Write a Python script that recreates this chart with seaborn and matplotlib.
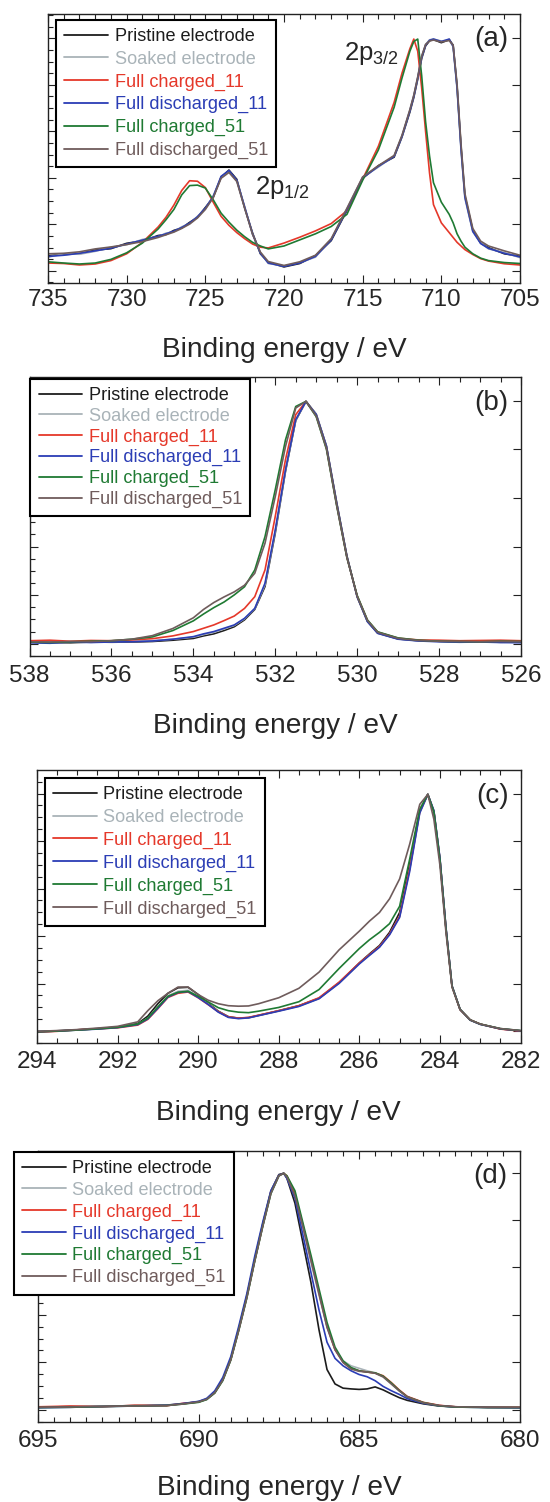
import matplotlib
matplotlib.use("Agg")
import matplotlib.pyplot as plt
from matplotlib.lines import Line2D
from matplotlib.ticker import MultipleLocator
import pandas as pd
import seaborn as sns

# ---------------------------------------------------------------- data
SAMPLES = ["Pristine electrode", "Soaked electrode", "Full charged_11",
           "Full discharged_11", "Full charged_51", "Full discharged_51"]
COLORS = ["#1c1c1c", "#a9b3b8", "#e5382a", "#2b3db5", "#1f7a33", "#6f5c5c"]

# (a) Fe 2p, normalised intensity
FE_ENERGY = [735, 734, 733, 732, 731, 730, 729, 728, 727.5, 727,
             726.5, 726, 725.5, 725, 724.5, 724, 723.5, 723, 722.5, 722,
             721.5, 721, 720, 719, 718, 717, 716, 715, 714, 713,
             712.5, 712, 711.75, 711.5, 711.25, 711, 710.75, 710.5, 710, 709.5,
             709.25, 709, 708.75, 708.5, 708, 707.5, 707, 706, 705]
FE_PRISTINE = [0.110, 0.115, 0.118, 0.133, 0.139, 0.161, 0.171, 0.193, 0.197, 0.214,
               0.224, 0.247, 0.268, 0.308, 0.350, 0.432, 0.462, 0.424, 0.306, 0.204,
               0.118, 0.083, 0.064, 0.078, 0.110, 0.172, 0.296, 0.428, 0.480, 0.515,
               0.598, 0.700, 0.760, 0.835, 0.920, 0.972, 0.993, 0.998, 0.985, 0.998,
               0.975, 0.805, 0.560, 0.355, 0.215, 0.162, 0.143, 0.118, 0.108]
FE_SOAKED = [0.104, 0.118, 0.116, 0.128, 0.145, 0.155, 0.177, 0.188, 0.203, 0.208,
             0.229, 0.241, 0.272, 0.302, 0.356, 0.430, 0.458, 0.418, 0.312, 0.198,
             0.123, 0.078, 0.068, 0.082, 0.104, 0.178, 0.302, 0.432, 0.474, 0.520,
             0.602, 0.708, 0.768, 0.842, 0.928, 0.978, 0.997, 1.000, 0.992, 0.996,
             0.968, 0.795, 0.545, 0.345, 0.208, 0.163, 0.138, 0.123, 0.102]
FE_CHG11 = [0.080, 0.078, 0.072, 0.076, 0.090, 0.118, 0.165, 0.228, 0.268, 0.318,
            0.378, 0.418, 0.416, 0.390, 0.330, 0.272, 0.235, 0.205, 0.180, 0.158,
            0.145, 0.142, 0.162, 0.186, 0.212, 0.242, 0.295, 0.425, 0.560, 0.740,
            0.860, 0.960, 1.000, 0.950, 0.800, 0.620, 0.450, 0.320, 0.245, 0.205,
            0.185, 0.165, 0.150, 0.135, 0.115, 0.098, 0.088, 0.077, 0.072]
FE_DIS11 = [0.107, 0.112, 0.120, 0.130, 0.141, 0.158, 0.174, 0.190, 0.200, 0.211,
            0.226, 0.244, 0.270, 0.305, 0.353, 0.436, 0.460, 0.420, 0.310, 0.200,
            0.120, 0.080, 0.066, 0.080, 0.107, 0.175, 0.300, 0.430, 0.477, 0.518,
            0.600, 0.705, 0.765, 0.840, 0.925, 0.975, 0.995, 1.000, 0.990, 1.000,
            0.970, 0.800, 0.550, 0.350, 0.210, 0.160, 0.140, 0.120, 0.105]
FE_CHG51 = [0.085, 0.080, 0.076, 0.080, 0.095, 0.122, 0.162, 0.220, 0.258, 0.300,
            0.360, 0.398, 0.400, 0.388, 0.340, 0.285, 0.248, 0.215, 0.188, 0.165,
            0.150, 0.138, 0.150, 0.175, 0.200, 0.230, 0.280, 0.420, 0.545, 0.720,
            0.840, 0.950, 0.990, 1.000, 0.850, 0.660, 0.520, 0.410, 0.330, 0.280,
            0.245, 0.200, 0.170, 0.145, 0.118, 0.100, 0.090, 0.082, 0.078]
FE_DIS51 = [0.118, 0.120, 0.126, 0.138, 0.146, 0.156, 0.168, 0.185, 0.196, 0.207,
            0.222, 0.240, 0.265, 0.300, 0.348, 0.428, 0.452, 0.415, 0.305, 0.198,
            0.125, 0.086, 0.070, 0.085, 0.112, 0.180, 0.305, 0.434, 0.480, 0.522,
            0.605, 0.710, 0.770, 0.845, 0.930, 0.978, 0.992, 0.996, 0.988, 0.994,
            0.975, 0.815, 0.570, 0.365, 0.222, 0.170, 0.150, 0.130, 0.112]

# (b) O 1s
O_ENERGY = [538, 537.5, 537, 536.5, 536, 535.5, 535, 534.5, 534, 533.75,
            533.5, 533.25, 533, 532.75, 532.5, 532.25, 532, 531.75, 531.5, 531.25,
            531, 530.75, 530.5, 530.25, 530, 529.75, 529.5, 529, 528.5, 528,
            527.5, 527, 526.5, 526]
O_PRISTINE = [0.054, 0.053, 0.052, 0.055, 0.054, 0.055, 0.057, 0.062, 0.069, 0.079,
              0.087, 0.100, 0.115, 0.142, 0.183, 0.273, 0.482, 0.725, 0.925, 1.0,
              0.950, 0.825, 0.603, 0.393, 0.232, 0.136, 0.090, 0.067, 0.060, 0.058,
              0.055, 0.056, 0.054, 0.055]
O_SOAKED = [0.055, 0.054, 0.056, 0.054, 0.056, 0.057, 0.060, 0.066, 0.074, 0.084,
            0.093, 0.106, 0.120, 0.146, 0.186, 0.280, 0.490, 0.728, 0.926, 1.0,
            0.949, 0.822, 0.598, 0.390, 0.234, 0.137, 0.091, 0.068, 0.060, 0.057,
            0.056, 0.057, 0.055, 0.056]
O_CHG11 = [0.060, 0.062, 0.058, 0.061, 0.060, 0.063, 0.068, 0.079, 0.096, 0.109,
           0.122, 0.139, 0.157, 0.187, 0.233, 0.338, 0.548, 0.771, 0.948, 1.0,
           0.945, 0.818, 0.595, 0.388, 0.236, 0.140, 0.094, 0.070, 0.063, 0.062,
           0.060, 0.061, 0.062, 0.060]
O_DIS11 = [0.052, 0.050, 0.055, 0.053, 0.055, 0.056, 0.059, 0.066, 0.076, 0.087,
           0.096, 0.109, 0.122, 0.148, 0.187, 0.286, 0.495, 0.731, 0.928, 1.0,
           0.948, 0.823, 0.600, 0.391, 0.233, 0.135, 0.089, 0.066, 0.059, 0.056,
           0.054, 0.055, 0.053, 0.052]
O_CHG51 = [0.055, 0.053, 0.056, 0.058, 0.060, 0.066, 0.075, 0.100, 0.138, 0.165,
           0.190, 0.212, 0.240, 0.272, 0.338, 0.469, 0.653, 0.849, 0.980, 1.0,
           0.940, 0.812, 0.590, 0.386, 0.238, 0.142, 0.095, 0.071, 0.062, 0.058,
           0.057, 0.056, 0.058, 0.057]
O_DIS51 = [0.056, 0.055, 0.057, 0.056, 0.060, 0.066, 0.080, 0.108, 0.150, 0.183,
           0.210, 0.232, 0.252, 0.278, 0.325, 0.443, 0.626, 0.823, 0.974, 1.0,
           0.942, 0.815, 0.592, 0.387, 0.235, 0.140, 0.093, 0.069, 0.061, 0.058,
           0.057, 0.056, 0.057, 0.056]

# (c) C 1s
C_ENERGY = [294, 293.5, 293, 292.5, 292, 291.5, 291.25, 291, 290.75, 290.5,
            290.25, 290, 289.75, 289.5, 289.25, 289, 288.75, 288.5, 288, 287.5,
            287, 286.5, 286, 285.75, 285.5, 285.25, 285, 284.75, 284.5, 284.3,
            284.15, 284, 283.85, 283.7, 283.5, 283.25, 283, 282.5, 282]
C_PRISTINE = [0.047, 0.049, 0.053, 0.058, 0.064, 0.078, 0.108, 0.158, 0.200, 0.222,
              0.224, 0.195, 0.160, 0.128, 0.106, 0.100, 0.102, 0.111, 0.130, 0.150,
              0.180, 0.243, 0.322, 0.358, 0.392, 0.445, 0.525, 0.720, 0.935, 1.0,
              0.930, 0.740, 0.462, 0.230, 0.136, 0.093, 0.076, 0.057, 0.049]
C_SOAKED = [0.046, 0.048, 0.052, 0.057, 0.063, 0.075, 0.100, 0.145, 0.190, 0.208,
            0.212, 0.187, 0.157, 0.126, 0.104, 0.099, 0.101, 0.111, 0.129, 0.148,
            0.179, 0.242, 0.320, 0.354, 0.387, 0.437, 0.510, 0.700, 0.928, 1.0,
            0.934, 0.743, 0.463, 0.229, 0.135, 0.092, 0.075, 0.057, 0.049]
C_CHG11 = [0.043, 0.047, 0.053, 0.057, 0.061, 0.072, 0.095, 0.138, 0.183, 0.200,
           0.205, 0.182, 0.154, 0.126, 0.105, 0.100, 0.103, 0.112, 0.130, 0.150,
           0.182, 0.245, 0.322, 0.355, 0.388, 0.438, 0.510, 0.700, 0.930, 1.0,
           0.932, 0.740, 0.460, 0.228, 0.134, 0.093, 0.076, 0.056, 0.048]
C_DIS11 = [0.045, 0.048, 0.052, 0.056, 0.062, 0.074, 0.097, 0.140, 0.185, 0.203,
           0.207, 0.183, 0.155, 0.124, 0.103, 0.098, 0.101, 0.110, 0.128, 0.147,
           0.178, 0.240, 0.318, 0.352, 0.385, 0.435, 0.505, 0.690, 0.925, 1.0,
           0.935, 0.745, 0.465, 0.230, 0.135, 0.092, 0.075, 0.057, 0.049]
C_CHG51 = [0.045, 0.048, 0.052, 0.057, 0.063, 0.076, 0.100, 0.145, 0.188, 0.204,
           0.208, 0.188, 0.165, 0.142, 0.130, 0.124, 0.122, 0.128, 0.143, 0.166,
           0.215, 0.300, 0.380, 0.415, 0.445, 0.480, 0.550, 0.740, 0.940, 1.0,
           0.930, 0.738, 0.458, 0.228, 0.135, 0.093, 0.076, 0.058, 0.050]
C_DIS51 = [0.047, 0.050, 0.054, 0.060, 0.067, 0.085, 0.130, 0.170, 0.200, 0.225,
           0.225, 0.195, 0.172, 0.158, 0.150, 0.148, 0.149, 0.158, 0.182, 0.220,
           0.285, 0.375, 0.450, 0.490, 0.525, 0.580, 0.660, 0.800, 0.960, 1.0,
           0.900, 0.715, 0.445, 0.225, 0.134, 0.093, 0.076, 0.058, 0.050]

# (d) F 1s
F_ENERGY = [695, 694, 693, 692, 691, 690.5, 690, 689.75, 689.5, 689.25,
            689, 688.75, 688.5, 688.25, 688, 687.75, 687.5, 687.35, 687.25, 687,
            686.75, 686.5, 686.25, 686, 685.75, 685.5, 685.25, 685, 684.75, 684.5,
            684.25, 684, 683.75, 683.5, 683, 682.5, 682, 681, 680]
F_PRISTINE = [0.058, 0.061, 0.062, 0.065, 0.067, 0.072, 0.081, 0.091, 0.120, 0.170,
              0.252, 0.375, 0.505, 0.655, 0.798, 0.928, 0.995, 1.0, 0.98, 0.88,
              0.72, 0.56, 0.37, 0.21, 0.152, 0.135, 0.132, 0.130, 0.132, 0.140,
              0.128, 0.112, 0.097, 0.086, 0.072, 0.063, 0.060, 0.058, 0.057]
F_SOAKED = [0.059, 0.060, 0.063, 0.064, 0.066, 0.072, 0.080, 0.090, 0.118, 0.168,
            0.250, 0.370, 0.500, 0.650, 0.790, 0.920, 0.990, 1.0, 0.985, 0.91,
            0.78, 0.64, 0.51, 0.38, 0.29, 0.245, 0.225, 0.215, 0.205, 0.196,
            0.182, 0.155, 0.125, 0.100, 0.077, 0.065, 0.060, 0.058, 0.058]
F_CHG11 = [0.060, 0.063, 0.060, 0.066, 0.064, 0.074, 0.079, 0.092, 0.116, 0.170,
           0.252, 0.372, 0.505, 0.652, 0.792, 0.925, 0.992, 1.0, 0.99, 0.92,
           0.79, 0.655, 0.52, 0.385, 0.29, 0.24, 0.215, 0.205, 0.200, 0.196,
           0.185, 0.158, 0.128, 0.102, 0.078, 0.066, 0.060, 0.058, 0.058]
F_DIS11 = [0.056, 0.058, 0.061, 0.063, 0.066, 0.073, 0.082, 0.094, 0.124, 0.178,
           0.262, 0.385, 0.515, 0.668, 0.805, 0.930, 0.993, 1.0, 0.98, 0.90,
           0.75, 0.60, 0.45, 0.32, 0.255, 0.225, 0.205, 0.19, 0.181, 0.165,
           0.142, 0.125, 0.11, 0.093, 0.074, 0.064, 0.059, 0.057, 0.056]
F_CHG51 = [0.057, 0.058, 0.061, 0.063, 0.065, 0.071, 0.078, 0.089, 0.115, 0.165,
           0.248, 0.368, 0.498, 0.648, 0.788, 0.918, 0.990, 1.0, 0.99, 0.93,
           0.80, 0.67, 0.535, 0.40, 0.30, 0.245, 0.218, 0.205, 0.200, 0.197,
           0.183, 0.156, 0.126, 0.100, 0.077, 0.064, 0.059, 0.057, 0.057]
F_DIS51 = [0.058, 0.059, 0.062, 0.063, 0.065, 0.071, 0.080, 0.090, 0.117, 0.167,
           0.249, 0.369, 0.499, 0.649, 0.789, 0.919, 0.990, 1.0, 0.985, 0.91,
           0.785, 0.65, 0.515, 0.38, 0.29, 0.238, 0.212, 0.203, 0.200, 0.195,
           0.180, 0.152, 0.124, 0.100, 0.076, 0.065, 0.060, 0.058, 0.058]

# ---------------------------------------------------------------- style
sns.set_theme(style="ticks")
plt.rcParams["font.family"] = ["Liberation Sans", "DejaVu Sans"]
plt.rcParams["mathtext.default"] = "regular"
PALETTE = dict(zip(SAMPLES, COLORS))

PANELS = [
    dict(tag="(a)", energy=FE_ENERGY,
         series=[FE_PRISTINE, FE_SOAKED, FE_CHG11, FE_DIS11, FE_CHG51, FE_DIS51],
         xlim=(735, 705), major=5, minor=1, ytop=1.105,
         rect=[48, 13.5, 520, 282.5], legend_at=(0.0176, 0.976), spacing=0.31,
         xlabel_y=-0.25, pad=4.5),
    dict(tag="(b)", energy=O_ENERGY,
         series=[O_PRISTINE, O_SOAKED, O_CHG11, O_DIS11, O_CHG51, O_DIS51],
         xlim=(538, 526), major=2, minor=0.5, ytop=1.097,
         rect=[29.5, 376.7, 521, 656], legend_at=(0.002, 0.992), spacing=0.2,
         xlabel_y=-0.252, pad=6.5),
    dict(tag="(c)", energy=C_ENERGY,
         series=[C_PRISTINE, C_SOAKED, C_CHG11, C_DIS11, C_CHG51, C_DIS51],
         xlim=(294, 282), major=2, minor=0.5, ytop=1.098,
         rect=[37, 770, 520.5, 1043], legend_at=(0.017, 0.971), spacing=0.32,
         xlabel_y=-0.258, pad=5.5),
    dict(tag="(d)", energy=F_ENERGY,
         series=[F_PRISTINE, F_SOAKED, F_CHG11, F_DIS11, F_CHG51, F_DIS51],
         xlim=(695, 680), major=5, minor=0.5, ytop=1.091,
         rect=[38.3, 1150.7, 519.5, 1421.7], legend_at=(-0.0507, 0.996), spacing=0.26,
         xlabel_y=-0.246, pad=6),
]

W, H = 550, 1502
fig = plt.figure(figsize=(W / 100, H / 100), dpi=100)
fig.patch.set_facecolor("white")

for p in PANELS:
    x0, y0, x1, y1 = p["rect"]
    ax = fig.add_axes([x0 / W, 1 - y1 / H, (x1 - x0) / W, (y1 - y0) / H])
    ax.set_facecolor("white")

    df = pd.concat(
        [pd.DataFrame({"energy": p["energy"], "intensity": vals, "sample": name})
         for name, vals in zip(SAMPLES, p["series"])],
        ignore_index=True)
    sns.lineplot(data=df, x="energy", y="intensity", hue="sample",
                 hue_order=SAMPLES, palette=PALETTE, estimator=None, sort=False,
                 linewidth=1.2, legend=False, ax=ax)

    ax.set_xlim(*p["xlim"])
    ax.set_ylim(0, p["ytop"])
    ax.xaxis.set_major_locator(MultipleLocator(p["major"]))
    ax.xaxis.set_minor_locator(MultipleLocator(p["minor"]))
    ax.yaxis.set_major_locator(MultipleLocator(0.191, offset=0.048))
    ax.yaxis.set_minor_locator(MultipleLocator(0.191 / 4, offset=0.048))
    ax.tick_params(which="both", direction="in", top=True, right=True,
                   labelleft=False, color="#222222", width=0.8)
    ax.tick_params(which="major", length=6, labelsize=17.5, pad=p["pad"])
    ax.tick_params(which="minor", length=3.5)
    ax.tick_params(axis="y", which="minor", right=False)
    for s in ax.spines.values():
        s.set_linewidth(1.0)
        s.set_color("#222222")

    ax.set_ylabel("")
    ax.set_xlabel("Binding energy / eV", fontsize=20.2)
    ax.xaxis.label.set_verticalalignment("center")
    ax.xaxis.set_label_coords(0.5, p["xlabel_y"])

    ax.text(0.975, 0.905, p["tag"], transform=ax.transAxes, fontsize=20,
            ha="right", va="center")

    handles = [Line2D([], [], color=c, lw=1.3) for c in COLORS]
    leg = ax.legend(handles, SAMPLES, loc="upper left",
                    bbox_to_anchor=p["legend_at"], borderaxespad=0,
                    frameon=True, fancybox=False, framealpha=1,
                    facecolor="white", edgecolor="black", fontsize=13.1,
                    handlelength=2.4, handletextpad=0.35,
                    labelspacing=p["spacing"], borderpad=0.45,
                    labelcolor="linecolor")
    leg.get_frame().set_linewidth(1.5)

    if p["tag"] == "(a)":
        ax.text(716.2, 0.94, "2p$_{3/2}$", fontsize=18.5, ha="left", va="center")
        ax.text(721.85, 0.39, "2p$_{1/2}$", fontsize=18.5, ha="left", va="center")

fig.savefig("out.png", dpi=100)
